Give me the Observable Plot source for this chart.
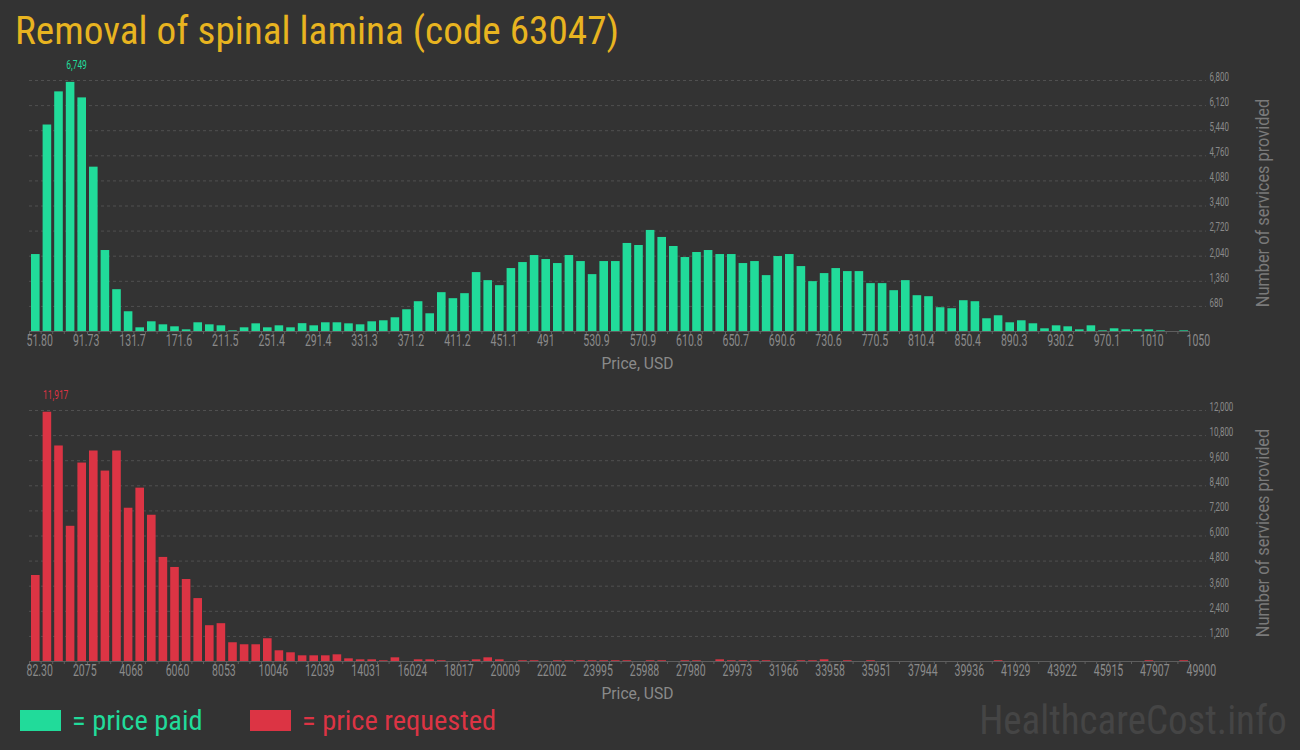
<!DOCTYPE html>
<html><head><meta charset="utf-8">
<script src="https://cdn.jsdelivr.net/npm/d3@7"></script>
<script src="https://cdn.jsdelivr.net/npm/@observablehq/plot@0.6"></script>
<style>
html,body{margin:0;padding:0;background:#333333;}
#root{position:relative;width:1300px;height:750px;overflow:hidden;font-family:"Roboto Condensed",Roboto,sans-serif;}
.abs{position:absolute;white-space:nowrap;line-height:1;}
#title{left:15px;top:11.5px;font-size:39px;color:#e8b420;transform:scaleX(1.006);transform-origin:0 0;}
.chart{position:absolute;left:0;}
#c1{top:55px;} #c2{top:385px;}
.sw{position:absolute;width:41px;height:21px;top:710px;}
.lg{font-size:28px;top:707px;transform:scaleX(1.015);transform-origin:0 0;}
#wm{right:13px;top:700px;font-size:41px;color:#454545;transform:scaleX(0.95);transform-origin:100% 0;}
</style></head>
<body><div id="root">
<div id="title" class="abs">Removal of spinal lamina (code 63047)</div>
<div id="c1" class="chart"></div>
<div id="c2" class="chart"></div>
<div class="sw" style="left:20px;background:#21db9a"></div>
<div class="abs lg" style="left:72px;color:#21db9a">= price paid</div>
<div class="sw" style="left:250px;background:#dc3444"></div>
<div class="abs lg" style="left:302px;color:#dc3444">= price requested</div>
<div id="wm" class="abs">HealthcareCost.info</div>
</div>
<script>
// ---- data ----
const paidTickLabels = ["51.80","91.73","131.7","171.6","211.5","251.4","291.4","331.3","371.2","411.2","451.1","491","530.9","570.9","610.8","650.7","690.6","730.6","770.5","810.4","850.4","890.3","930.2","970.1","1010","1050"];
const paidCounts = [
  2085,5594,6492,6749,6329,4452,2194,1133,535,100,
  263,181,127,45,236,181,154,18,100,208,
  100,154,100,212,154,236,236,208,181,263,
  290,372,589,807,480,1052,889,1025,1596,1378,
  1242,1705,1868,2058,1950,1841,2058,1895,1541,1895,
  1895,2385,2330,2738,2548,2303,2004,2140,2194,2085,
  2085,1841,1895,1514,2031,2085,1759,1351,1569,1705,
  1623,1623,1297,1297,1106,1378,970,943,644,617,
  834,807,345,426,236,290,209,73,154,127,
  45,154,18,73,45,45,45,18,0,18
];
const paidYTicks = [680,1360,2040,2720,3400,4080,4760,5440,6120,6800];

const requestedTickLabels = ["82.30","2075","4068","6060","8053","10046","12039","14031","16024","18017","20009","22002","23995","25988","27980","29973","31966","33958","35951","37944","39936","41929","43922","45915","47907","49900"];
const requestedCounts = [
  4112,11917,10304,6464,9488,10064,9104,10064,7328,8288,
  6992,4976,4496,3920,3008,1712,1808,896,800,800,
  1088,512,416,272,272,272,320,128,80,80,
  32,176,0,80,80,35,0,35,80,176,
  80,0,35,35,0,35,35,35,35,35,
  35,35,0,35,35,0,35,35,0,80,
  35,35,35,35,0,0,35,35,80,0,
  35,0,35,0,0,0,0,0,0,0,
  0,0,0,35,0,0,0,0,0,0,
  0,0,0,0,0,0,35,0,0,35
];
const requestedYTicks = [1200,2400,3600,4800,6000,7200,8400,9600,10800,12000];

const paidColor = "#21db9a";
const requestedColor = "#dc3444";

// ---- helpers ----
function squeeze(group, s) {
  if (!group) return;
  group.querySelectorAll("text").forEach(t => {
    const tr = t.getAttribute("transform") || "";
    const x = parseFloat(t.getAttribute("x")) || 0;
    const y = parseFloat(t.getAttribute("y")) || 0;
    const dxa = t.getAttribute("dx");
    const dx = dxa && /^-?[\d.]+$/.test(dxa) ? parseFloat(dxa) : 0;
    if (dx) t.removeAttribute("dx");
    t.removeAttribute("x"); t.removeAttribute("y");
    t.setAttribute("transform", `${tr} translate(${x + dx},${y}) scale(${s},1)`);
  });
}

function makeChart(tickLabels, counts, yTicks, color) {
  const lo = +tickLabels[0], hi = +tickLabels[tickLabels.length - 1];
  const n = counts.length, w = (hi - lo) / n;
  const bins = counts.map((c, i) => ({x1: lo + i * w, x2: lo + (i + 1) * w, count: c}));
  const edges = d3.range(n + 1).map(i => lo + i * w);
  const peak = bins.reduce((a, b) => (b.count > a.count ? b : a));
  const fmt = d3.format(",");
  const svg = Plot.plot({
    width: 1300, height: 330,
    marginLeft: 29, marginRight: 111, marginTop: 25, marginBottom: 54,
    style: {background: "transparent", color: "#5e5e5e", fontFamily: "Roboto", overflow: "visible"},
    x: {domain: [lo, hi], ticks: edges, tickFormat: () => "", tickSize: 3, line: true, label: null},
    y: {domain: [0, yTicks[yTicks.length - 1]], axis: null},
    marks: [
      Plot.ruleY(yTicks, {stroke: "#505050", strokeDasharray: "3,3", insetRight: -17}),
      Plot.rectY(bins, {x1: "x1", x2: "x2", y: "count", fill: color, insetLeft: 2, insetRight: 1}),
      Plot.text(tickLabels, {x: d => +d, text: d => d, frameAnchor: "bottom", lineAnchor: "middle", dy: 14, dx: -3, textAnchor: "start", fill: "#8a8a8a", fontSize: 17}),
      Plot.text(yTicks, {y: d => d, text: d => fmt(d), frameAnchor: "right", lineAnchor: "middle", dx: 20, textAnchor: "start", fill: "#8a8a8a", fontSize: 12}),
      Plot.text([peak], {x: "x1", y: "count", text: d => fmt(d.count), dx: 2, dy: -14, textAnchor: "start", fill: color, fontSize: 12}),
      Plot.text(["Price, USD"], {frameAnchor: "bottom", lineAnchor: "middle", textAnchor: "middle", dy: 37, dx: 28, fill: "#8a8a8a", fontSize: 17}),
      Plot.text(["Number of services provided"], {frameAnchor: "right", lineAnchor: "middle", textAnchor: "middle", dx: 79, dy: -3, rotate: -90, fill: "#7a7a7a", fontSize: 19})
    ]
  });
  const groups = svg.querySelectorAll('g[aria-label="text"]');
  const scales = [0.62, 0.66, 0.7, 0.92, 0.86];
  groups.forEach((g, i) => squeeze(g, scales[i] || 1));
  return svg;
}

document.getElementById("c1").appendChild(makeChart(paidTickLabels, paidCounts, paidYTicks, paidColor));
document.getElementById("c2").appendChild(makeChart(requestedTickLabels, requestedCounts, requestedYTicks, requestedColor));
</script>
</body></html>
